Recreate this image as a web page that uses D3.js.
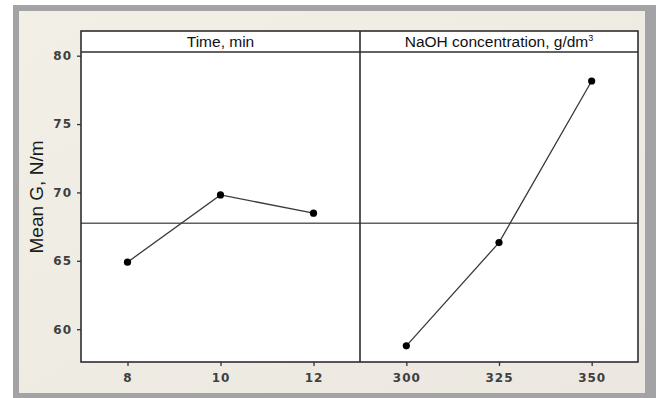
<!DOCTYPE html>
<html>
<head>
<meta charset="utf-8">
<script src="https://cdn.jsdelivr.net/npm/d3@7/dist/d3.min.js"></script>
<style>
  html, body { margin: 0; padding: 0; background: #ffffff; }
  svg { display: block; }
</style>
</head>
<body>
<svg id="chart" width="656" height="398"></svg>
<script>
// Main effects plot for mean G (N/m)
const panelTitles = ["Time, min", "NaOH concentration, g/dm"];
const timeLevels = ["8", "10", "12"];
const timeMeans = [64.9, 69.82, 68.48];
const naohLevels = ["300", "325", "350"];
const naohMeans = [58.78, 66.33, 78.15];
const yTicks = [60, 65, 70, 75, 80];
const grandMean = 67.75;
const yLabel = "Mean G, N/m";

const svg = d3.select("#chart");
const W = 656, H = 398;

// Window frame and beige canvas
svg.append("rect").attr("x", 13).attr("y", 5).attr("width", W - 13).attr("height", H - 5)
  .attr("fill", "#a3a3a5");
const grad = svg.append("defs").append("linearGradient").attr("id", "bg")
  .attr("x1", 0).attr("y1", 0).attr("x2", 1).attr("y2", 1);
grad.append("stop").attr("offset", "0%").attr("stop-color", "#f1efe6");
grad.append("stop").attr("offset", "100%").attr("stop-color", "#ece8e1");
svg.append("rect").attr("x", 19).attr("y", 11).attr("width", 626).attr("height", 382)
  .attr("fill", "url(#bg)");

// Plot geometry
const left = 81, right = 638, mid = 360;
const stripTop = 31, plotTop = 52, plotBottom = 362;

const y = d3.scaleLinear().domain([57.6, 80.27]).range([plotBottom, plotTop]);

const panels = [
  { levels: timeLevels, means: timeMeans, x0: left, x1: mid, title: panelTitles[0], sup: null },
  { levels: naohLevels, means: naohMeans, x0: mid, x1: right, title: panelTitles[1], sup: "3" }
];

const tickFont = sel => sel
  .attr("font-family", "DejaVu Sans, Verdana, sans-serif")
  .attr("font-size", 12).attr("font-weight", "bold")
  .attr("letter-spacing", "1px").attr("fill", "#3f3f3f");

// White panel area and strips
svg.append("rect").attr("x", left).attr("y", stripTop).attr("width", right - left)
  .attr("height", plotBottom - stripTop).attr("fill", "#ffffff");

// Grand mean reference line
svg.append("line").attr("x1", left).attr("x2", right)
  .attr("y1", y(grandMean)).attr("y2", y(grandMean))
  .attr("stroke", "#606060").attr("stroke-width", 1.6);

const line = d3.line();

panels.forEach(p => {
  const x = d3.scalePoint().domain(p.levels).range([p.x0, p.x1]).padding(0.5);

  // x axis ticks and labels
  const ax = svg.append("g").attr("transform", `translate(0,${plotBottom})`)
    .call(d3.axisBottom(x).tickSize(4).tickPadding(7));
  ax.select(".domain").remove();
  ax.selectAll(".tick line").attr("stroke", "#333").attr("stroke-width", 1.3);
  ax.selectAll(".tick text").call(tickFont);

  // Connecting line and level means
  const pts = p.levels.map((l, i) => [x(l), y(p.means[i])]);
  svg.append("path").attr("d", line(pts)).attr("fill", "none")
    .attr("stroke", "#3a3a3a").attr("stroke-width", 1.3);
  svg.selectAll(null).data(p.levels).enter().append("circle")
    .attr("cx", d => x(d)).attr("cy", (d, i) => y(p.means[i]))
    .attr("r", 3.6).attr("fill", "#000");

  // Strip title
  const t = svg.append("text").attr("x", (p.x0 + p.x1) / 2).attr("y", 47)
    .attr("text-anchor", "middle")
    .attr("font-family", "Liberation Sans, Arial, sans-serif")
    .attr("font-size", 15.5).attr("fill", "#111").text(p.title);
  if (p.sup) {
    t.append("tspan").attr("dy", -6).attr("font-size", 9).text(p.sup);
  }
});

// Frame lines: outer box, strip divider, panel divider
const frame = svg.append("g").attr("fill", "none").attr("stroke", "#2e2e2e").attr("stroke-width", 1.6);
frame.append("rect").attr("x", left).attr("y", stripTop)
  .attr("width", right - left).attr("height", plotBottom - stripTop);
frame.append("line").attr("x1", left).attr("x2", right).attr("y1", plotTop).attr("y2", plotTop);
frame.append("line").attr("x1", mid).attr("x2", mid).attr("y1", stripTop).attr("y2", plotBottom);

// y axis
const ay = svg.append("g").attr("transform", `translate(${left},0)`)
  .call(d3.axisLeft(y).tickValues(yTicks).tickSize(4).tickPadding(5));
ay.select(".domain").remove();
ay.selectAll(".tick line").attr("stroke", "#333").attr("stroke-width", 1.3);
ay.selectAll(".tick text").call(tickFont);

// y axis title
svg.append("text")
  .attr("transform", "translate(43,197) rotate(-90)")
  .attr("text-anchor", "middle")
  .attr("font-family", "Liberation Sans, Arial, sans-serif")
  .attr("font-size", 19).attr("fill", "#1a1a1a").text(yLabel);
</script>
</body>
</html>
